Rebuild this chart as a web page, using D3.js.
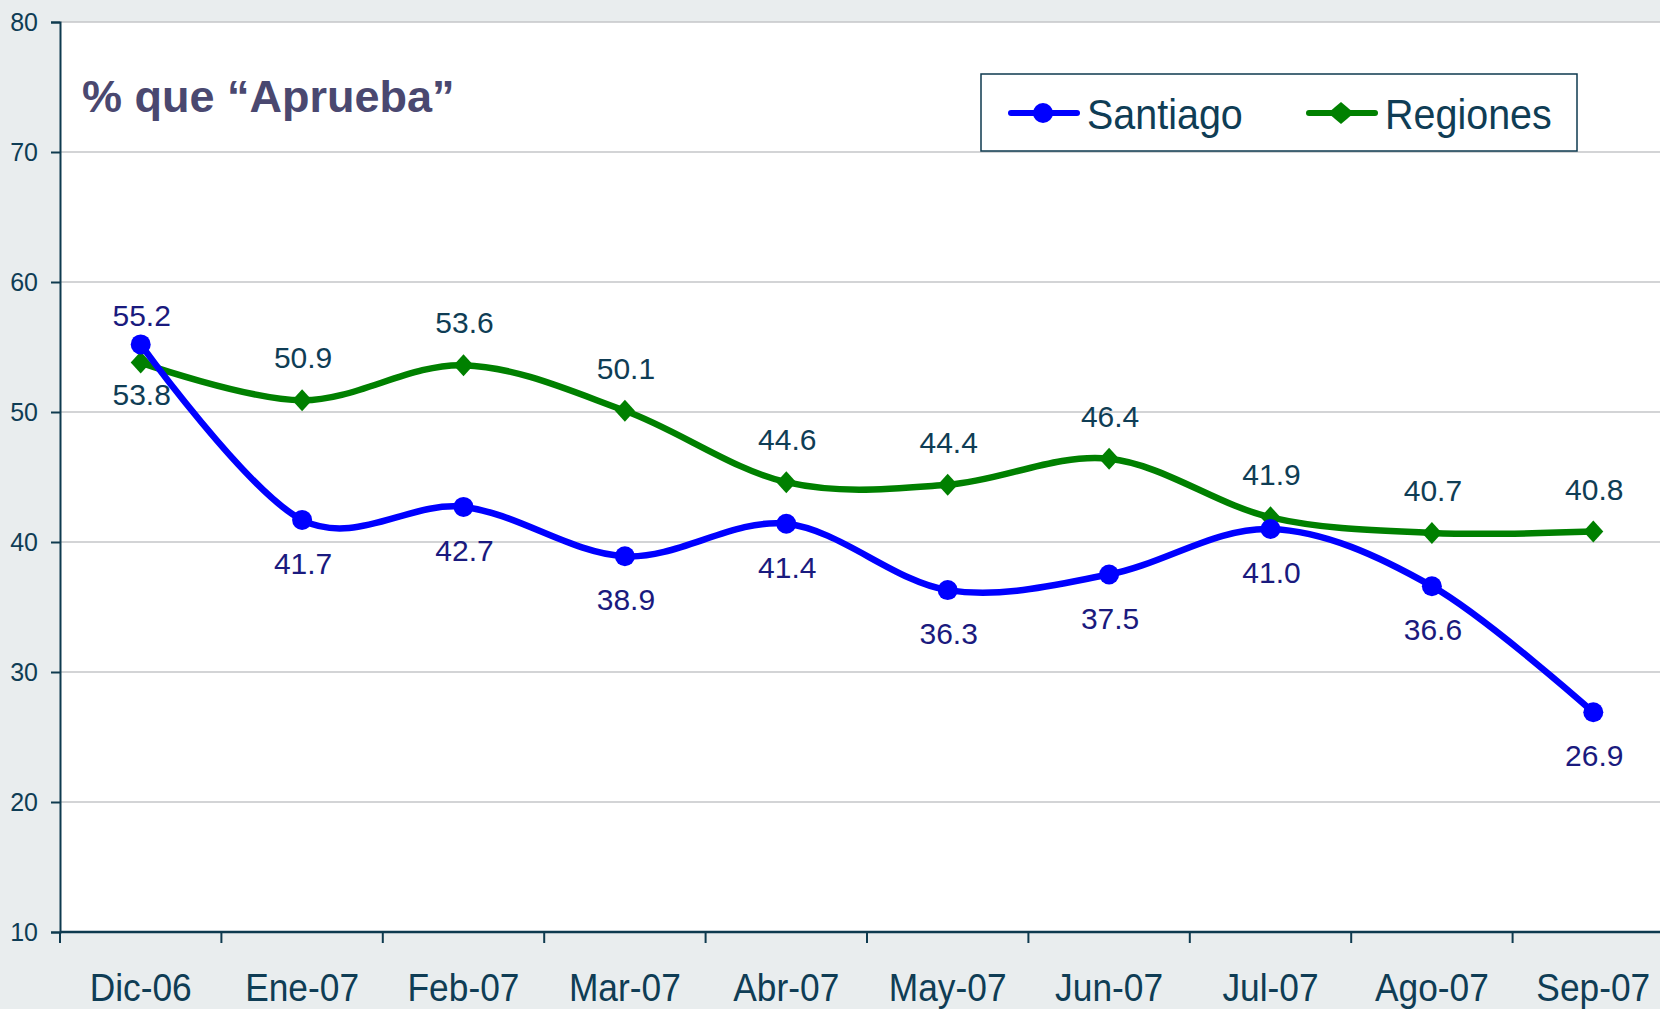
<!DOCTYPE html>
<html>
<head>
<meta charset="utf-8">
<script src="https://cdn.jsdelivr.net/npm/d3@7"></script>
<style>
  body { margin: 0; background: #e9edee; }
  svg { display: block; font-family: "Liberation Sans", Arial, sans-serif; }
</style>
</head>
<body>
<div id="chartdiv"></div>
<script>
var months = ["Dic-06","Ene-07","Feb-07","Mar-07","Abr-07","May-07","Jun-07","Jul-07","Ago-07","Sep-07"];
var santiago = [55.2, 41.7, 42.7, 38.9, 41.4, 36.3, 37.5, 41.0, 36.6, 26.9];
var regiones = [53.8, 50.9, 53.6, 50.1, 44.6, 44.4, 46.4, 41.9, 40.7, 40.8];
var yTicks = [10, 20, 30, 40, 50, 60, 70, 80];
// label above (-1) or below (1) the point
var santiagoPos = [-1, 1, 1, 1, 1, 1, 1, 1, 1, 1];
var regionesPos = [1, -1, -1, -1, -1, -1, -1, -1, -1, -1];

var w = 1660, h = 1009;
var plotLeft = 60, plotTop = 22, plotBottom = 932;
var fontCond = "Liberation Sans, Arial, sans-serif";

var svg = d3.select("#chartdiv").append("svg")
    .attr("width", w)
    .attr("height", h);

var x = d3.scaleBand().domain(months).range([plotLeft, plotLeft + 10*161.4]);
var y = d3.scaleLinear().domain([10, 80]).range([plotBottom, plotTop]);

// plot area
svg.append("rect")
    .attr("x", plotLeft).attr("y", plotTop)
    .attr("width", w - plotLeft).attr("height", plotBottom - plotTop)
    .attr("fill", "white");

// gridlines
svg.selectAll(".grid").data(yTicks.slice(1)).enter().append("line")
    .attr("class", "grid")
    .attr("x1", plotLeft).attr("x2", w)
    .attr("y1", function(d){return y(d)}).attr("y2", function(d){return y(d)})
    .attr("stroke", "#c4c6c8").attr("stroke-width", 1.5);

// y axis
var yAxis = svg.append("g")
    .attr("transform", "translate(" + plotLeft + ",0)")
    .call(d3.axisLeft(y).tickValues(yTicks).tickSize(9).tickPadding(13));
yAxis.attr("font-size", null).attr("font-family", null);
yAxis.select(".domain").attr("stroke", "#0e3a4f").attr("stroke-width", 2);
yAxis.selectAll(".tick line").attr("stroke", "#0e3a4f").attr("stroke-width", 2);
yAxis.selectAll(".tick text")
    .attr("fill", "#0f3d55")
    .style("font-size", "25px")
    .style("font-family", fontCond);

// x axis, ticks between categories
var xAxis = svg.append("g")
    .attr("transform", "translate(0," + plotBottom + ")");
xAxis.append("line")
    .attr("x1", plotLeft).attr("x2", w)
    .attr("y1", 0).attr("y2", 0)
    .attr("stroke", "#0e3a4f").attr("stroke-width", 2.5);
xAxis.selectAll(".xtick").data(months).enter().append("line")
    .attr("class", "xtick")
    .attr("x1", function(d){return x(d)}).attr("x2", function(d){return x(d)})
    .attr("y1", 0).attr("y2", 11)
    .attr("stroke", "#0e3a4f").attr("stroke-width", 2);
xAxis.selectAll(".xlab").data(months).enter().append("text")
    .attr("class", "xlab")
    .attr("transform", function(d){return "translate(" + (x(d) + x.bandwidth()/2) + ",69) scale(0.93,1)"})
    .attr("text-anchor", "middle")
    .attr("font-size", 38)
    .attr("fill", "#0f3d55")
    .text(function(d){return d});

var cx = function(d, i){return x(months[i]) + x.bandwidth()/2};

var line = d3.line()
    .x(function(d, i){return cx(d, i)})
    .y(function(d){return y(d)})
    .curve(d3.curveCardinal.tension(0));

// diamond marker, a bit taller than wide
function diamond(hw, hh){
    return "M0," + (-hh) + "L" + hw + ",0L0," + hh + "L" + (-hw) + ",0Z";
}

// Regiones
svg.append("path").datum(regiones)
    .attr("d", line)
    .attr("fill", "none")
    .attr("stroke", "#008000")
    .attr("stroke-width", 6.5)
    .attr("stroke-linejoin", "round");
svg.selectAll(".regmark").data(regiones).enter().append("path")
    .attr("class", "regmark")
    .attr("d", diamond(10, 11))
    .attr("transform", function(d, i){return "translate(" + cx(d, i) + "," + y(d) + ")"})
    .attr("fill", "#008000");

// Santiago
svg.append("path").datum(santiago)
    .attr("d", line)
    .attr("fill", "none")
    .attr("stroke", "#0000ff")
    .attr("stroke-width", 6.5)
    .attr("stroke-linejoin", "round");
svg.selectAll(".santmark").data(santiago).enter().append("circle")
    .attr("class", "santmark")
    .attr("cx", function(d, i){return cx(d, i)})
    .attr("cy", function(d){return y(d)})
    .attr("r", 10)
    .attr("fill", "#0000ff");

// data labels
svg.selectAll(".reglab").data(regiones).enter().append("text")
    .attr("class", "reglab")
    .attr("x", function(d, i){return cx(d, i) + 1})
    .attr("y", function(d, i){return y(d) + (regionesPos[i] < 0 ? -32 : 42)})
    .attr("text-anchor", "middle")
    .attr("font-size", 30)
    .attr("fill", "#0f3d55")
    .text(function(d){return d.toFixed(1)});
svg.selectAll(".santlab").data(santiago).enter().append("text")
    .attr("class", "santlab")
    .attr("x", function(d, i){return cx(d, i) + 1})
    .attr("y", function(d, i){return y(d) + (santiagoPos[i] < 0 ? -18 : 54)})
    .attr("text-anchor", "middle")
    .attr("font-size", 30)
    .attr("fill", "#1a1a7e")
    .text(function(d){return d.toFixed(1)});

// title
svg.append("text")
    .attr("x", 82).attr("y", 112)
    .attr("font-size", 45)
    .attr("font-weight", "bold")
    .attr("fill", "#4a4870")
    .text("% que \u201cAprueba\u201d");

// legend
var leg = svg.append("g");
leg.append("rect")
    .attr("x", 981).attr("y", 74)
    .attr("width", 596).attr("height", 77)
    .attr("fill", "white")
    .attr("stroke", "#0e3a4f").attr("stroke-width", 1.5);
var legItems = [
    {name: "Santiago", color: "#0000ff", x0: 1011},
    {name: "Regiones", color: "#008000", x0: 1309}
];
legItems.forEach(function(it, k){
    leg.append("line")
        .attr("x1", it.x0).attr("x2", it.x0 + 66)
        .attr("y1", 113).attr("y2", 113)
        .attr("stroke", it.color).attr("stroke-width", 6)
        .attr("stroke-linecap", "round");
    if (k == 0){
        leg.append("circle").attr("cx", it.x0 + 32).attr("cy", 113).attr("r", 10).attr("fill", it.color);
    } else {
        leg.append("path")
            .attr("d", diamond(13, 11))
            .attr("transform", "translate(" + (it.x0 + 32) + ",113)")
            .attr("fill", it.color);
    }
    leg.append("text")
        .attr("transform", "translate(" + (it.x0 + 76) + ",129) scale(0.94,1)")
        .attr("font-size", 42)
        .attr("fill", "#0f3d55")
        .text(it.name);
});
</script>
</body>
</html>
